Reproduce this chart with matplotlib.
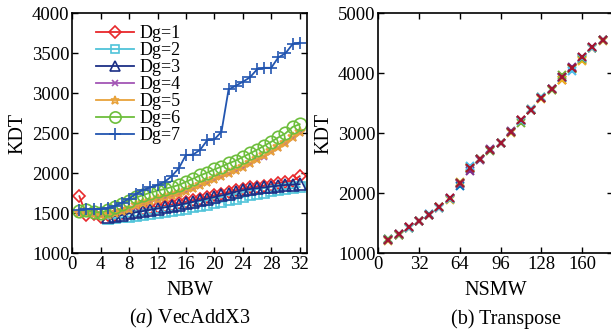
import matplotlib
matplotlib.use("Agg")
import matplotlib.pyplot as plt

plt.rcParams['font.family'] = ['Liberation Serif', 'DejaVu Serif']
plt.rcParams['mathtext.fontset'] = 'custom'
plt.rcParams['mathtext.rm'] = 'Liberation Serif'
plt.rcParams['mathtext.it'] = 'Liberation Serif:italic'
plt.rcParams['font.size'] = 13

# (a) VecAddX3
nbw = list(range(1, 33))
nbw_from5 = list(range(5, 33))
dg1 = [1710, 1470, 1490, 1455, 1470, 1480, 1495, 1515, 1530, 1545, 1560, 1575,
       1590, 1605, 1620, 1640, 1660, 1680, 1700, 1720, 1740, 1760, 1785, 1805,
       1820, 1830, 1840, 1850, 1870, 1890, 1900, 1960]
dg2 = [1430, 1435, 1445, 1455, 1465, 1475, 1490, 1500, 1515, 1525, 1540, 1555,
       1570, 1585, 1600, 1620, 1640, 1660, 1680, 1700, 1720, 1735, 1750, 1770,
       1785, 1800, 1810, 1825]
dg3 = [1450, 1460, 1475, 1495, 1510, 1525, 1540, 1555, 1570, 1585, 1600, 1620,
       1640, 1660, 1680, 1700, 1720, 1740, 1765, 1785, 1800, 1810, 1820, 1830,
       1840, 1850, 1855, 1860]
dg4 = [1495, 1490, 1480, 1470, 1470, 1490, 1515, 1545, 1580, 1610, 1640, 1665,
       1690, 1710, 1735, 1765, 1800, 1840, 1875, 1915, 1950, 1985, 2025, 2065,
       2110, 2160, 2205, 2260, 2310, 2370, 2440, 2500]
dg5 = [1500, 1495, 1485, 1478, 1480, 1500, 1525, 1555, 1595, 1625, 1655, 1680,
       1705, 1725, 1750, 1780, 1815, 1855, 1890, 1930, 1965, 2000, 2040, 2080,
       2125, 2175, 2220, 2270, 2320, 2380, 2450, 2510]
dg6 = [1530, 1535, 1515, 1505, 1535, 1575, 1615, 1655, 1695, 1725, 1755, 1780,
       1800, 1825, 1850, 1890, 1930, 1970, 2005, 2045, 2080, 2120, 2155, 2200,
       2245, 2290, 2340, 2390, 2445, 2495, 2575, 2610]
dg7 = [1540, 1550, 1545, 1550, 1560, 1590, 1630, 1680, 1740, 1790, 1820, 1850,
       1890, 1960, 2060, 2225, 2230, 2290, 2410, 2420, 2515, 3045, 3090, 3140,
       3195, 3295, 3315, 3315, 3445, 3495, 3610, 3630]

# (b) Transpose
nsmw = [8, 16, 24, 32, 40, 48, 56, 64, 72, 80, 88, 96, 104, 112, 120, 128,
        136, 144, 152, 160, 168, 176]
tr1 = [1240, 1300, 1410, 1530, 1650, 1750, 1900, 2120, 2400, 2560, 2720, 2840,
       3020, 3200, 3390, 3580, 3730, 3920, 4090, 4250, 4420, 4550]
tr2 = [1210, 1300, 1440, 1540, 1640, 1760, 1900, 2170, 2410, 2560, 2710, 2840,
       3010, 3210, 3380, 3580, 3740, 3890, 4080, 4210, 4420, 4550]
tr3 = [1200, 1310, 1420, 1530, 1640, 1750, 1890, 2190, 2420, 2570, 2720, 2830,
       3000, 3200, 3400, 3570, 3720, 3880, 4060, 4200, 4410, 4540]
tr4 = [1220, 1320, 1430, 1540, 1630, 1770, 1910, 2150, 2370, 2550, 2730, 2840,
       3030, 3210, 3390, 3590, 3730, 3940, 4100, 4270, 4430, 4550]
tr5 = [1230, 1300, 1420, 1540, 1640, 1760, 1900, 2160, 2430, 2560, 2700, 2830,
       3010, 3170, 3380, 3600, 3720, 3960, 4070, 4240, 4410, 4550]
tr6 = [1220, 1310, 1420, 1540, 1640, 1750, 1900, 2170, 2450, 2570, 2710, 2840,
       3020, 3200, 3400, 3600, 3730, 3930, 4030, 4250, 4420, 4550]
tr7 = [1220, 1310, 1430, 1540, 1640, 1760, 1910, 2160, 2410, 2570, 2710, 2840,
       3020, 3220, 3390, 3590, 3740, 3930, 4090, 4260, 4440, 4550]

fig = plt.figure(figsize=(6.11, 3.31), dpi=100)
ax1 = fig.add_axes([0.1183, 0.2356, 0.3837, 0.7251])
ax2 = fig.add_axes([0.6191, 0.2356, 0.3840, 0.7251])


def style(ax):
    for s in ax.spines.values():
        s.set_linewidth(1.2)
    ax.tick_params(direction='in', top=True, right=True, length=4, width=1,
                   labelsize=13.5, pad=2)


series = [
    (nbw, dg1, 'Dg=1', '#E8282B', 'D', 6.5),
    (nbw_from5, dg2, 'Dg=2', '#4FC3D9', 's', 6.5),
    (nbw_from5, dg3, 'Dg=3', '#1C2F86', '^', 8),
    (nbw, dg4, 'Dg=4', '#A355B5', 'x', 5),
    (nbw, dg5, 'Dg=5', '#E8A23A', '*', 7),
    (nbw, dg6, 'Dg=6', '#6DBE3C', 'o', 9),
    (nbw, dg7, 'Dg=7', '#2255B0', '+', 9),
]
for x, y, lab, c, m, ms in series:
    ax1.plot(x, y, color=c, marker=m, markersize=ms, markerfacecolor='none',
             markeredgewidth=1.2, linewidth=1.3, label=lab)

ax1.set_xlim(0, 33)
ax1.set_ylim(1000, 4000)
ax1.set_xticks(range(0, 33, 4))
ax1.set_yticks(range(1000, 4001, 500))
ax1.set_xlabel('NBW', fontsize=14.5, labelpad=6)
ax1.set_ylabel('KDT', fontsize=14.5, labelpad=3)
style(ax1)
ax1.legend(loc='upper left', frameon=False, fontsize=13, handlelength=2.1,
           handletextpad=0.3, labelspacing=0.0, borderaxespad=0.0,
           bbox_to_anchor=(0.07, 0.98), markerscale=0.9)

colors = ['#0072BD', '#D95319', '#EDB120', '#7E2F8E', '#77AC30', '#4DBEEE',
          '#A2142F']
for y, c in zip([tr1, tr2, tr3, tr4, tr5, tr6, tr7], colors):
    ax2.plot(nsmw, y, linestyle='none', marker='x', color=c, markersize=6,
             markeredgewidth=1.5)

ax2.set_xlim(0, 184)
ax2.set_ylim(1000, 5000)
ax2.set_xticks(range(0, 161, 32))
ax2.set_yticks(range(1000, 5001, 1000))
ax2.set_xlabel('NSMW', fontsize=14.5, labelpad=6)
ax2.set_ylabel('KDT', fontsize=14.5, labelpad=3)
style(ax2)

fig.text(0.31, 0.022, r'($\mathit{a}$) VecAddX3', ha='center', fontsize=14.5)
fig.text(0.828, 0.022, '(b) Transpose', ha='center', fontsize=14.5)

fig.savefig('out.png', dpi=100)
